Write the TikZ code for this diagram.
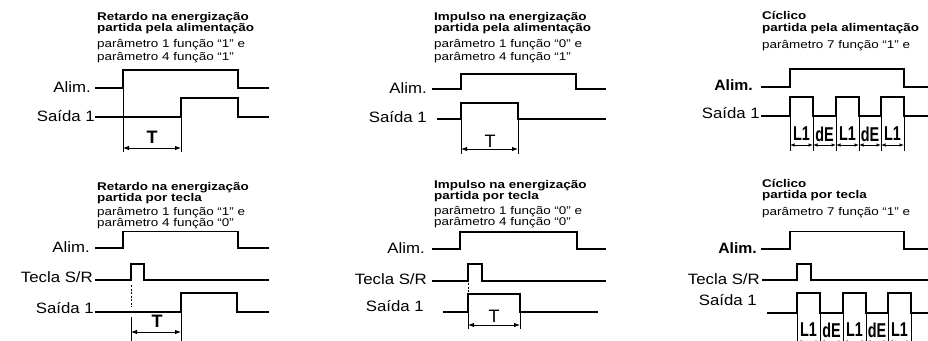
\documentclass[tikz,border=0pt]{standalone}
\usepackage{graphicx}
\usepackage{fontspec}
\setmainfont{Liberation Sans}
\usetikzlibrary{arrows.meta}
\newcommand\ttlb[1]{\scalebox{1.2}[1]{\fontsize{11.2}{12}\selectfont\bfseries #1}}
\newcommand\ttlr[1]{\scalebox{1.2}[1]{\fontsize{11.2}{12}\selectfont #1}}
\newcommand\lblr[1]{\scalebox{1.12}[1]{\fontsize{15}{16}\selectfont #1}}
\newcommand\lblb[1]{\scalebox{1.05}[1]{\fontsize{15}{16}\selectfont\bfseries #1}}
\newcommand\seg[1]{\scalebox{0.72}[1]{\fontsize{20}{20}\selectfont\bfseries #1}}
\begin{document}
\begin{tikzpicture}[x=1pt,y=-1pt,
  sig/.style={line width=1.3pt},
  dimln/.style={line width=0.9pt},
  dimarr/.style={line width=0.9pt,{Latex[length=6pt,width=4.5pt]}-{Latex[length=6pt,width=4.5pt]}},
  dimarrs/.style={line width=0.8pt,{Latex[length=4.5pt,width=3.5pt]}-{Latex[length=4.5pt,width=3.5pt]}},
  dashln/.style={line width=0.8pt,dash pattern=on 2pt off 1.5pt},
  ttl/.style={anchor=base west,inner sep=0pt},
  lbl/.style={anchor=east,inner sep=0pt},
  segl/.style={inner sep=0pt}]
\useasboundingbox (0,0) rectangle (928,340);

% ---------- Panel 1 ----------
\node[ttl] (p1t1) at (97,20) {\ttlb{Retardo na energização}};
\node[ttl] (p1t2) at (97,31.7) {\ttlb{partida pela alimentação}};
\node[ttl] (p1t3) at (97,47.7) {\ttlr{parâmetro 1 função “1” e}};
\node[ttl] (p1t4) at (97,60) {\ttlr{parâmetro 4 função “1”}};
\node[lbl] (p1a) at (91,87) {\lblr{Alim.}};
\node[lbl] (p1s) at (95,116) {\lblr{Saída 1}};
\draw[sig] (95,88) -- (123,88) -- (123,70) -- (238,70) -- (238,88) -- (269,88);
\draw[sig] (95,117) -- (181,117) -- (181,98) -- (238,98) -- (238,117) -- (269,117);
\draw[dimln] (123,88) -- (123,152);
\draw[dimln] (181,117) -- (181,152);
\draw[dimarr] (123,148) -- (181,148);
\node[inner sep=0pt,font=\fontsize{18}{18}\selectfont\bfseries] (p1T) at (152,137) {T};

% ---------- Panel 2 ----------
\node[ttl] (p2t1) at (434,20) {\ttlb{Impulso na energização}};
\node[ttl] (p2t2) at (434,31.7) {\ttlb{partida pela alimentação}};
\node[ttl] (p2t3) at (434,47.7) {\ttlr{parâmetro 1 função “0” e}};
\node[ttl] (p2t4) at (434,60) {\ttlr{parâmetro 4 função “1”}};
\node[lbl] (p2a) at (427,88) {\lblr{Alim.}};
\node[lbl] (p2s) at (427,117) {\lblr{Saída 1}};
\draw[sig] (432,89) -- (461,89) -- (461,74) -- (576,74) -- (576,89) -- (606,89);
\draw[sig] (437,119) -- (461,119) -- (461,103) -- (518,103) -- (518,119) -- (606,119);
\draw[dimln] (461,119) -- (461,154);
\draw[dimln] (518,119) -- (518,154);
\draw[dimarr] (461,149) -- (518,149);
\node[inner sep=0pt,font=\fontsize{18}{18}\selectfont] (p2T) at (490,141) {T};

% ---------- Panel 3 ----------
\node[ttl] (p3t1) at (762,19.5) {\ttlb{Cíclico}};
\node[ttl] (p3t2) at (762,31.7) {\ttlb{partida pela alimentação}};
\node[ttl] (p3t3) at (762,48.3) {\ttlr{parâmetro 7 função “1” e}};
\node[lbl] (p3a) at (753,85) {\lblb{Alim.}};
\node[lbl] (p3s) at (760,113) {\lblr{Saída 1}};
\draw[sig] (761,87) -- (790,87) -- (790,69) -- (904,69) -- (904,87) -- (932,87);
\draw[sig] (761,116) -- (790,116) -- (790,97) -- (813,97) -- (813,116) -- (836,116) -- (836,97)
  -- (859,97) -- (859,116) -- (881,116) -- (881,97) -- (904,97) -- (904,116) -- (932,116);
\foreach \xx in {790,813,836,859,881,904} \draw[dimln] (\xx,116) -- (\xx,151);
\coordinate (p3c0) at (790,145); \coordinate (p3c1) at (813,145); \coordinate (p3c2) at (836,145);
\coordinate (p3c3) at (859,145); \coordinate (p3c4) at (881,145); \coordinate (p3c5) at (904,145);
\draw[dimarrs] (p3c0) -- (p3c1); \draw[dimarrs] (p3c1) -- (p3c2); \draw[dimarrs] (p3c2) -- (p3c3);
\draw[dimarrs] (p3c3) -- (p3c4); \draw[dimarrs] (p3c4) -- (p3c5);
\node[segl] (p3l1) at (801.5,134) {\seg{L1}};
\node[segl] (p3l2) at (824.5,134) {\seg{dE}};
\node[segl] (p3l3) at (847.5,134) {\seg{L1}};
\node[segl] (p3l4) at (870,134) {\seg{dE}};
\node[segl] (p3l5) at (892.5,134) {\seg{L1}};

% ---------- Panel 4 ----------
\node[ttl] (p4t1) at (97,190) {\ttlb{Retardo na energização}};
\node[ttl] (p4t2) at (97,201.7) {\ttlb{partida por tecla}};
\node[ttl] (p4t3) at (97,215.7) {\ttlr{parâmetro 1 função “1” e}};
\node[ttl] (p4t4) at (97,226) {\ttlr{parâmetro 4 função “0”}};
\node[lbl] (p4a) at (90,247) {\lblr{Alim.}};
\node[lbl] (p4k) at (93,277) {\lblr{Tecla S/R}};
\node[lbl] (p4s) at (94,308) {\lblr{Saída 1}};
\draw[sig] (95,248) -- (123,248) -- (123,231.5) -- (238,231.5) -- (238,248) -- (269,248);
\draw[sig] (95,280) -- (131,280) -- (131,264) -- (144,264) -- (144,280) -- (269,280);
\draw[sig] (95,312) -- (181,312) -- (181,293) -- (237,293) -- (237,312) -- (269,312);
\draw[dashln] (131,285) -- (131,307);
\draw[dimln] (131,317) -- (131,342);
\draw[dimln] (181,312) -- (181,342);
\draw[dimarr] (131,332) -- (181,332);
\node[inner sep=0pt,font=\fontsize{18}{18}\selectfont\bfseries] (p4T) at (157,321) {T};

% ---------- Panel 5 ----------
\node[ttl] (p5t1) at (434,188.5) {\ttlb{Impulso na energização}};
\node[ttl] (p5t2) at (434,199.5) {\ttlb{partida por tecla}};
\node[ttl] (p5t3) at (434,214.3) {\ttlr{parâmetro 1 função “0” e}};
\node[ttl] (p5t4) at (434,225) {\ttlr{parâmetro 4 função “0”}};
\node[lbl] (p5a) at (425,248) {\lblr{Alim.}};
\node[lbl] (p5k) at (427,279) {\lblr{Tecla S/R}};
\node[lbl] (p5s) at (424,306) {\lblr{Saída 1}};
\draw[sig] (432,249) -- (460,249) -- (460,232) -- (577,232) -- (577,249) -- (606,249);
\draw[sig] (432,281) -- (468,281) -- (468,264) -- (482,264) -- (482,281) -- (606,281);
\draw[sig] (443,312) -- (468,312) -- (468,294) -- (520,294) -- (520,312) -- (598,312);
\draw[dashln] (468,283) -- (468,292);
\draw[dimln] (468,312) -- (468,329);
\draw[dimln] (520,312) -- (520,329);
\draw[dimarr] (468,325) -- (520,325);
\node[inner sep=0pt,font=\fontsize{18}{18}\selectfont] (p5T) at (494,316) {T};

% ---------- Panel 6 ----------
\node[ttl] (p6t1) at (762,187) {\ttlb{Cíclico}};
\node[ttl] (p6t2) at (762,198) {\ttlb{partida por tecla}};
\node[ttl] (p6t3) at (762,215) {\ttlr{parâmetro 7 função “1” e}};
\node[lbl] (p6a) at (757,248) {\lblb{Alim.}};
\node[lbl] (p6k) at (760,279) {\lblr{Tecla S/R}};
\node[lbl] (p6s) at (757,300) {\lblr{Saída 1}};
\draw[sig] (761,249) -- (790,249) -- (790,231.5) -- (904,231.5) -- (904,249) -- (932,249);
\draw[sig] (762,280) -- (797,280) -- (797,264) -- (811,264) -- (811,280) -- (932,280);
\draw[sig] (767,313) -- (797,313) -- (797,293) -- (820,293) -- (820,313) -- (843,313) -- (843,293)
  -- (866,293) -- (866,313) -- (888,313) -- (888,293) -- (911,293) -- (911,313) -- (932,313);
\foreach \xx in {797,820,843,866,888,911} \draw[dimln] (\xx,313) -- (\xx,350);
\coordinate (p6c0) at (797,342); \coordinate (p6c1) at (820,342); \coordinate (p6c2) at (843,342);
\coordinate (p6c3) at (866,342); \coordinate (p6c4) at (888,342); \coordinate (p6c5) at (911,342);
\draw[dimarrs] (p6c0) -- (p6c1); \draw[dimarrs] (p6c1) -- (p6c2); \draw[dimarrs] (p6c2) -- (p6c3);
\draw[dimarrs] (p6c3) -- (p6c4); \draw[dimarrs] (p6c4) -- (p6c5);
\node[segl] (p6l1) at (808.5,330) {\seg{L1}};
\node[segl] (p6l2) at (831.5,330) {\seg{dE}};
\node[segl] (p6l3) at (854.5,330) {\seg{L1}};
\node[segl] (p6l4) at (877,330) {\seg{dE}};
\node[segl] (p6l5) at (899.5,330) {\seg{L1}};
\end{tikzpicture}
\end{document}
